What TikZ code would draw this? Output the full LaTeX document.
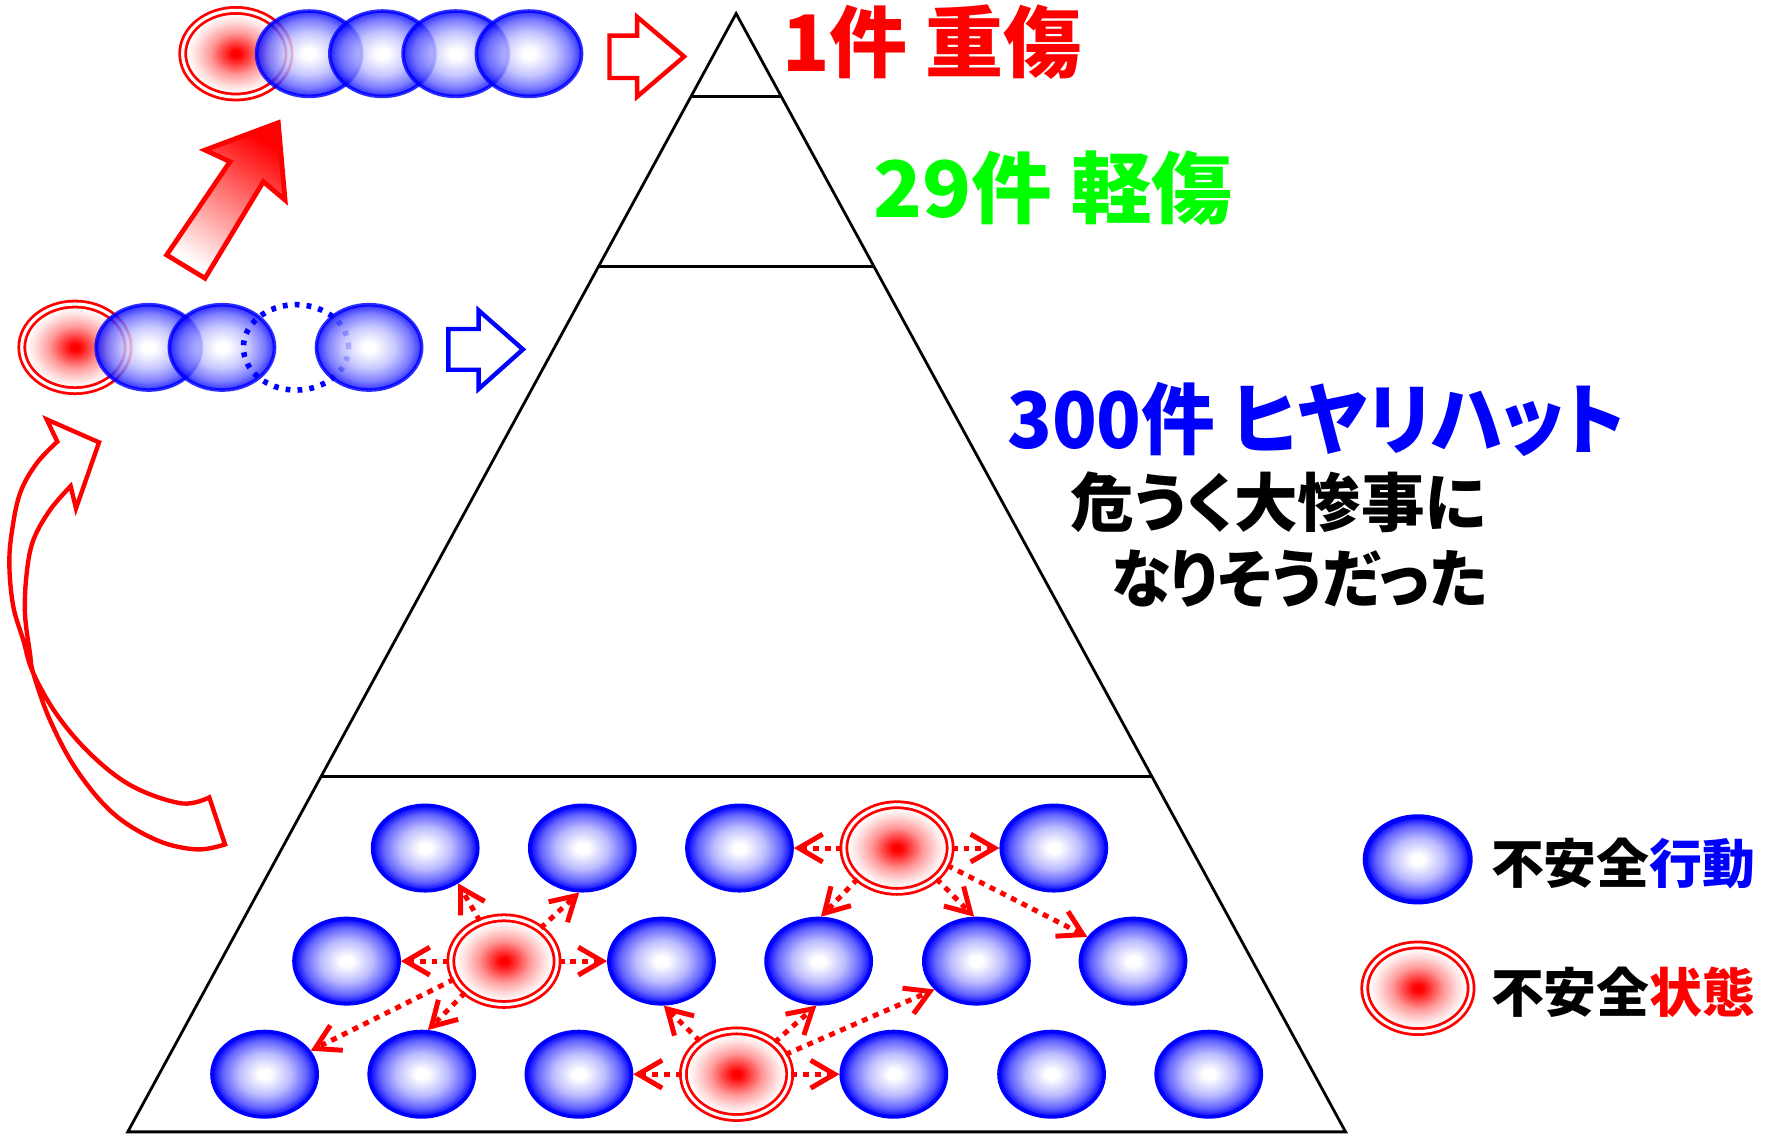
\documentclass[tikz,border=0pt]{standalone}
\usepackage{fontspec}
\newfontfamily\jp{Noto Sans CJK JP Black}[RawFeature=+palt]
\usetikzlibrary{shapes.geometric,arrows.meta}
\definecolor{brightgreen}{RGB}{0,255,0}
\pgfdeclareradialshading{bluespot}{\pgfpoint{0bp}{0bp}}{color(0bp)=(white); color(3bp)=(white); color(12.5bp)=(blue!27!white); color(20bp)=(blue!62!white); color(25bp)=(blue); color(50bp)=(blue)}
\pgfdeclareradialshading{redspot}{\pgfpoint{0bp}{0bp}}{color(0bp)=(red); color(2bp)=(red); color(12bp)=(red!40!white); color(19bp)=(red!12!white); color(23bp)=(white); color(50bp)=(white)}
\begin{document}
\begin{tikzpicture}[x=0.01cm,y=-0.01cm,
  bball/.style={ellipse, inner sep=0pt, minimum width=0.93cm, minimum height=0.755cm, draw=blue, line width=0.9pt, shade, shading=bluespot},
  rball/.style={ellipse, inner sep=0pt, minimum width=0.94cm, minimum height=0.766cm, draw=red, line width=0.7pt, double=white, double distance=0.8pt, shade, shading=redspot},
  chain/.style={opacity=0.82},
  dball/.style={ellipse, inner sep=0pt, minimum width=0.93cm, minimum height=0.755cm, draw=blue, line width=1.4pt, dash pattern=on 1.2pt off 1.8pt},
  darrow/.style={red, line width=1.25pt, dash pattern=on 1.5pt off 1.5pt, -{Straight Barb[length=6pt,width=7pt]}},
  hollow/.style={line width=1.1pt, line join=miter},
  big/.style={font=\jp\fontsize{19.6}{24}\selectfont, anchor=west, inner sep=0pt},
  mid/.style={font=\jp\fontsize{16}{20}\selectfont, anchor=west, inner sep=0pt},
  leg/.style={font=\jp\fontsize{13.3}{16}\selectfont, anchor=west, inner sep=0pt}
]
\useasboundingbox (0,0) rectangle (1568,1003);

% pyramid
\draw[line width=0.7pt] (651,12) -- (113,1001) -- (1190,1001) -- cycle;
\draw[line width=0.7pt] (611.8,85) -- (690.3,85);
\draw[line width=0.7pt] (529.6,236) -- (772.7,236);
\draw[line width=0.7pt] (284.0,687) -- (1018.7,687);

% texts
\node[big, text=red] (lab1) at (691,37) {1件 重傷};
\node[big, text=brightgreen] (lab29) at (772,166.5) {\scalebox{1.035}[1]{29件 軽傷}};
\node[big, text=blue] (lab300) at (890,371) {\scalebox{0.945}[1]{300件 ヒヤリハット}};
\node[mid] (desc1) at (946,444.5) {危うく大惨事に};
\node[mid] (desc2) at (982,512) {\scalebox{0.95}[1]{なりそうだった}};

% top chain
\node[rball] (tr) at (208.6,47.5) {};
\node[bball, chain] (tb1) at (273.4,47.5) {};
\node[bball, chain] (tb2) at (338.2,47.5) {};
\node[bball, chain] (tb3) at (403,47.5) {};
\node[bball, chain] (tb4) at (467.8,47.5) {};
\draw[hollow, draw=red] (539,31.5) -- (563.5,31.5) -- (563.5,15) -- (605,50) -- (563.5,85.5) -- (563.5,69) -- (539,69) -- cycle;

% middle chain
\node[rball] (mr) at (66.3,307.2) {};
\node[bball, chain] (mb1) at (131.5,307.2) {};
\node[bball, chain] (mb2) at (196.3,307.2) {};
\node[dball] (md) at (261.8,307.2) {};
\node[bball, chain] (mb3) at (326.4,307.2) {};
\draw[hollow, draw=blue] (396.5,291) -- (423.3,291) -- (423.3,274.5) -- (462.5,309) -- (423.3,344) -- (423.3,327) -- (396.5,327) -- cycle;

% diagonal shaded arrow
\draw[line width=1.2pt, draw=red, line join=miter, shading=axis, top color=red, bottom color=white, shading angle=-32.6]
  (147.4,225.5) -- (181.3,246.1) -- (232.9,160.7) -- (252.1,176.9) -- (246.1,108.5) -- (181.3,132.7) -- (203.4,143) -- cycle;

% curved twisted arrow
\draw[red, line width=1.1pt, line join=miter]
  (87.6,391.2) -- (67.2,449.6) -- (62.5,429.9)
  -- plot[smooth, tension=0.6] coordinates {(62.5,429.9) (44.2,451.1) (29.5,477.6) (23.6,507.1) (22.1,542.5) (26.5,577.8) (29.5,595.5) (44.2,636.8) (67.8,681) (100.2,719.4) (138.6,743) (173.9,751.2) (199,746.8)}
  -- (185.1,705.2)
  -- plot[smooth, tension=0.6] coordinates {(185.1,705.2) (160.7,710.5) (117.9,695.8) (82.5,669.2) (51.6,633.9) (29.5,595.5) (20.6,566.1) (11.8,536.6) (8.3,501.2) (10.3,471.7) (17.7,436.3) (32.4,409.8) (50.7,390.6)}
  -- (41.3,370.9) -- cycle;

% bottom grid
\node[bball] (b11) at (376,750) {};
\node[bball] (b12) at (515,750) {};
\node[bball] (b13) at (654,750) {};
\node[rball] (r1) at (793.3,750) {};
\node[bball] (b14) at (932,750) {};
\node[bball] (b21) at (306.5,850) {};
\node[rball] (r2) at (445.7,850) {};
\node[bball] (b22) at (585,850) {};
\node[bball] (b23) at (724,850) {};
\node[bball] (b24) at (863.5,850) {};
\node[bball] (b25) at (1002,850) {};
\node[bball] (b31) at (234,950) {};
\node[bball] (b32) at (373,950) {};
\node[bball] (b33) at (512,950) {};
\node[rball] (r3) at (651.4,950) {};
\node[bball] (b34) at (790.5,950) {};
\node[bball] (b35) at (930,950) {};
\node[bball] (b36) at (1069,950) {};

\draw[darrow] (r2) -- (b21);
\draw[darrow] (r2) -- (b22);
\draw[darrow] (r2.121.6) -- (b11.-47);
\draw[darrow] (r2.42.4) -- (b12.-94.7);
\draw[darrow] (r2.219.5) -- (b32.82.3);
\draw[darrow] (r2.200) -- (b31.27.5);
\draw[darrow] (r1) -- (b13);
\draw[darrow] (r1) -- (b14);
\draw[darrow] (r1.218) -- (b23.87.3);
\draw[darrow] (r1.-38.4) -- (b24.93.5);
\draw[darrow] (r1.-19.5) -- (b25.152.6);
\draw[darrow] (r3) -- (b33);
\draw[darrow] (r3) -- (b34);
\draw[darrow] (r3.138.5) -- (b22.-87.2);
\draw[darrow] (r3.40.2) -- (b23.-93.8);
\draw[darrow] (r3.22) -- (b24.214.3);

% legend
\node[bball, line width=1.2pt] (legb) at (1253.8,760) {};
\node[rball] (legr) at (1254,874) {};
\node[leg] (legt1) at (1318,764) {不安全\textcolor{blue}{行動}};
\node[leg] (legt2) at (1318,877.5) {不安全\textcolor{red}{状態}};
\end{tikzpicture}
\end{document}
